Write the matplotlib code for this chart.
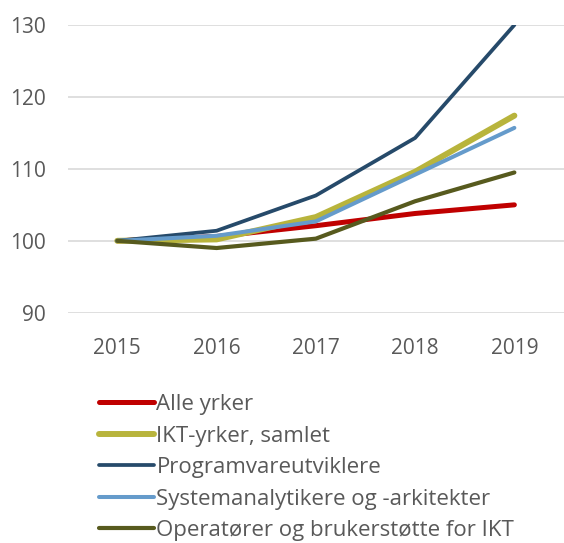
import matplotlib
matplotlib.use('Agg')
from matplotlib import pyplot as plt

# data
years = ['2015', '2016', '2017', '2018', '2019']
alle = [100, 100.6, 102.1, 103.8, 105.0]
ikt = [100, 100.2, 103.3, 109.6, 117.4]
prog = [100, 101.4, 106.3, 114.3, 130.0]
system = [100, 100.7, 102.7, 109.2, 115.7]
oper = [100, 99.0, 100.3, 105.5, 109.5]

labels = ['Alle yrker', 'IKT-yrker, samlet', 'Programvareutviklere',
          'Systemanalytikere og -arkitekter', 'Operatører og brukerstøtte for IKT']
colors = ['#C00000', '#B8B43C', '#264A6A', '#659BCB', '#575A1E']
widths = [3.6, 4.3, 2.7, 2.9, 3.0]

plt.rcParams['font.family'] = ['Open Sans', 'DejaVu Sans']
fig = plt.figure(figsize=(5.64, 5.43), dpi=100)
ax = fig.add_axes([0.12, 0.424, 0.88, 0.53])

x = range(len(years))
for s, lab, c, w in zip([alle, ikt, prog, system, oper], labels, colors, widths):
    ax.plot(x, s, color=c, linewidth=w, label=lab, solid_capstyle='round')

ax.set_ylim(90, 130)
ax.set_yticks([90, 100, 110, 120, 130])
ax.set_xlim(-0.5, 4.5)
ax.set_xticks(list(x))
ax.set_xticklabels(years)
ax.grid(axis='y', color='#d9d9d9', linewidth=1.2)
ax.set_axisbelow(True)
for sp in ax.spines.values():
    sp.set_visible(False)
ax.tick_params(length=0, labelsize=15, colors='#595959')
ax.tick_params(axis='x', pad=18)
ax.tick_params(axis='y', pad=16)

h, l = ax.get_legend_handles_labels()
leg = fig.legend(h, l, loc='upper left', bbox_to_anchor=(0.175, 0.274),
                 frameon=False, fontsize=16, handlelength=2.5, handletextpad=0.1,
                 labelspacing=0.47, borderaxespad=0, borderpad=0)
for t in leg.get_texts():
    t.set_color('#595959')

fig.savefig('out.png', dpi=100)
